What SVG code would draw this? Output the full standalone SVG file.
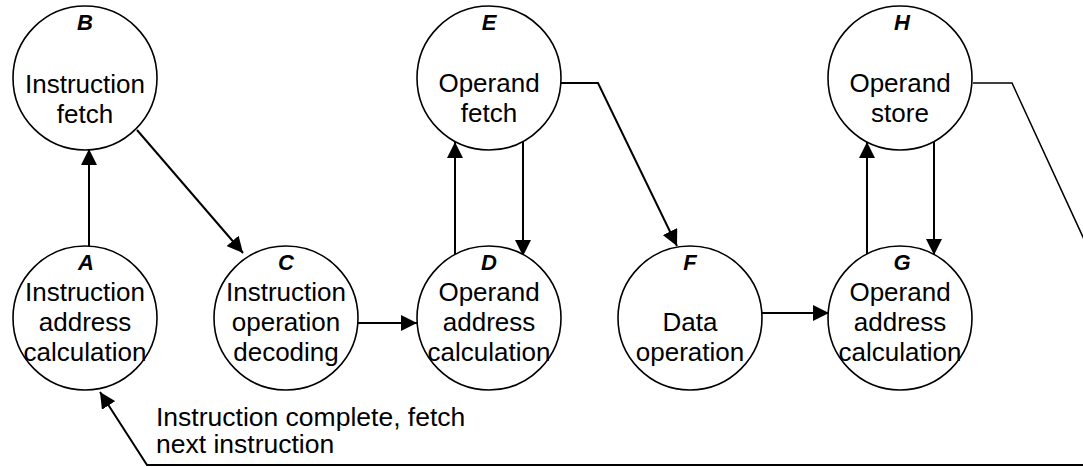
<svg xmlns="http://www.w3.org/2000/svg" width="1083" height="467" viewBox="0 0 1083 467">
  <style>
    .node circle { fill: #ffffff; stroke: #000000; stroke-width: 1.6; }
    .txt { font-family: "Liberation Sans", Arial, sans-serif; font-size: 26px; fill: #000000; text-anchor: middle; }
    .lbl { font-family: "Liberation Sans", Arial, sans-serif; font-size: 22px; font-weight: bold; font-style: italic; fill: #000000; text-anchor: middle; }
    .edge { fill: none; stroke: #000000; stroke-width: 2; }
    .thin { fill: none; stroke: #000000; stroke-width: 1.5; }
    .note { font-family: "Liberation Sans", Arial, sans-serif; font-size: 26.5px; fill: #000000; }
  </style>
  <defs>
    <marker id="arrow" markerUnits="userSpaceOnUse" markerWidth="16" markerHeight="16" refX="16" refY="8" orient="auto">
      <path d="M0,0 L16,8 L0,16 z" fill="#000000"/>
    </marker>
  </defs>
  <rect width="1083" height="467" fill="#ffffff"/>

  <!-- connectors -->
  <g id="connectors">
    <line class="edge" x1="89" y1="246" x2="89" y2="149" marker-end="url(#arrow)"/>
    <line class="edge" x1="137" y1="130" x2="243" y2="253" marker-end="url(#arrow)"/>
    <line class="edge" x1="358" y1="323" x2="417" y2="323" marker-end="url(#arrow)"/>
    <line class="edge" x1="455" y1="258" x2="455" y2="142" marker-end="url(#arrow)"/>
    <line class="edge" x1="523" y1="142" x2="523" y2="256" marker-end="url(#arrow)"/>
    <polyline class="edge" points="561,83 598,83 677,246" marker-end="url(#arrow)"/>
    <line class="edge" x1="762" y1="313" x2="829" y2="313" marker-end="url(#arrow)"/>
    <line class="edge" x1="867" y1="257" x2="867" y2="142" marker-end="url(#arrow)"/>
    <line class="edge" x1="934" y1="142" x2="934" y2="255" marker-end="url(#arrow)"/>
    <polyline class="thin" points="973,83 1012,83 1100,274"/>
    <polyline class="edge" points="1100,465 147,465 100,392" marker-end="url(#arrow)"/>
  </g>

  <!-- nodes -->
  <g id="node-B" class="node">
    <circle cx="85" cy="78" r="72"/>
    <text class="lbl" x="85" y="30">B</text>
    <text class="txt" x="85" y="93">Instruction</text>
    <text class="txt" x="85" y="123">fetch</text>
  </g>
  <g id="node-A" class="node">
    <circle cx="85" cy="318" r="72"/>
    <text class="lbl" x="86" y="270">A</text>
    <text class="txt" x="85" y="301">Instruction</text>
    <text class="txt" x="85" y="331">address</text>
    <text class="txt" x="85" y="361">calculation</text>
  </g>
  <g id="node-C" class="node">
    <circle cx="286" cy="318" r="72"/>
    <text class="lbl" x="286" y="270">C</text>
    <text class="txt" x="286" y="301">Instruction</text>
    <text class="txt" x="286" y="331">operation</text>
    <text class="txt" x="286" y="361">decoding</text>
  </g>
  <g id="node-E" class="node">
    <circle cx="489" cy="78" r="72"/>
    <text class="lbl" x="489" y="30">E</text>
    <text class="txt" x="489" y="92">Operand</text>
    <text class="txt" x="489" y="122">fetch</text>
  </g>
  <g id="node-D" class="node">
    <circle cx="489" cy="318" r="72"/>
    <text class="lbl" x="489" y="270">D</text>
    <text class="txt" x="489" y="301">Operand</text>
    <text class="txt" x="489" y="331">address</text>
    <text class="txt" x="489" y="361">calculation</text>
  </g>
  <g id="node-F" class="node">
    <circle cx="690" cy="318" r="72"/>
    <text class="lbl" x="690" y="270">F</text>
    <text class="txt" x="690" y="331">Data</text>
    <text class="txt" x="690" y="361">operation</text>
  </g>
  <g id="node-H" class="node">
    <circle cx="900" cy="78" r="72"/>
    <text class="lbl" x="902" y="30">H</text>
    <text class="txt" x="900" y="92">Operand</text>
    <text class="txt" x="900" y="122">store</text>
  </g>
  <g id="node-G" class="node">
    <circle cx="900" cy="318" r="72"/>
    <text class="lbl" x="902" y="270">G</text>
    <text class="txt" x="900" y="301">Operand</text>
    <text class="txt" x="900" y="331">address</text>
    <text class="txt" x="900" y="361">calculation</text>
  </g>

  <!-- return-path note -->
  <g id="note">
    <text class="note" x="156" y="426">Instruction complete, fetch</text>
    <text class="note" x="156" y="453">next instruction</text>
  </g>
</svg>
